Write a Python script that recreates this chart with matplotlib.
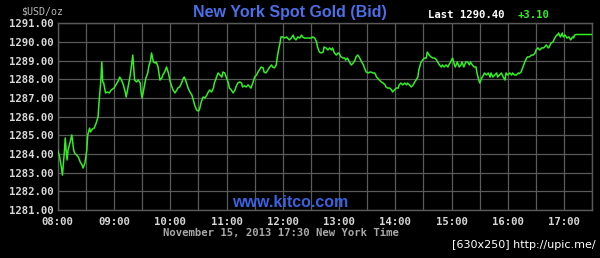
import matplotlib
matplotlib.use("Agg")
import matplotlib.pyplot as plt
import numpy as np

# minutes after 08:00 New York time, bid price in USD/oz
minutes = [0, 2, 4, 5, 7, 8, 9, 10, 11, 13, 15, 17, 18, 20, 22, 24, 26, 27, 29, 31,
           32, 34, 35, 37, 39, 41, 43, 44, 46, 47, 48, 49, 51, 53, 55, 57, 60, 62, 65, 66,
           68, 70, 72, 73, 75, 77, 79, 80, 81, 82, 84, 86, 88, 89, 90, 92, 94, 96, 97, 99,
           100, 102, 104, 105, 107, 109, 111, 112, 114, 116, 118, 120, 121, 123, 125, 127, 128, 130, 132, 134,
           135, 137, 139, 141, 143, 144, 146, 148, 150, 151, 153, 155, 157, 159, 160, 162, 164, 166, 167, 169,
           171, 173, 175, 176, 178, 180, 182, 183, 185, 187, 189, 190, 192, 194, 196, 197, 199, 201, 203, 205,
           206, 208, 210, 212, 213, 215, 217, 219, 220, 222, 224, 226, 228, 229, 231, 233, 234, 235, 237, 238,
           240, 242, 244, 245, 247, 249, 251, 252, 254, 256, 258, 260, 261, 263, 267, 270, 272, 274, 276, 277,
           279, 281, 283, 284, 286, 288, 290, 292, 293, 295, 297, 299, 300, 302, 304, 306, 307, 309, 311, 313,
           315, 317, 318, 320, 322, 324, 326, 327, 329, 331, 333, 334, 336, 338, 340, 341, 343, 345, 347, 349,
           350, 352, 354, 356, 357, 359, 361, 363, 364, 366, 368, 370, 372, 373, 375, 377, 379, 380, 382, 384,
           385, 387, 389, 391, 393, 394, 396, 398, 400, 402, 404, 405, 407, 409, 410, 412, 414, 416, 417, 419,
           421, 423, 424, 426, 428, 430, 431, 433, 435, 437, 439, 440, 442, 444, 446, 447, 449, 450, 452, 454,
           455, 457, 459, 461, 462, 464, 466, 468, 469, 471, 473, 475, 477, 478, 480, 482, 484, 485, 487, 489,
           491, 492, 494, 496, 498, 500, 501, 503, 505, 507, 509, 510, 512, 514, 516, 518, 519, 521, 523, 524,
           526, 528, 530, 532, 533, 534, 536, 538, 539, 541, 543, 545, 547, 549, 550, 551, 553, 570]
bid = [1284.21, 1283.86, 1283.25, 1282.87, 1284.05, 1284.86, 1284.21, 1283.68, 1284.21, 1284.59,
       1285.02, 1284.21, 1284.05, 1283.95, 1283.84, 1283.57, 1283.41, 1283.25, 1283.52, 1284.21,
       1285.02, 1285.39, 1285.18, 1285.34, 1285.39, 1285.66, 1285.98, 1286.73, 1287.96, 1288.93,
       1287.86, 1287.80, 1287.27, 1287.32, 1287.27, 1287.43, 1287.53, 1287.70, 1287.96, 1288.12,
       1287.96, 1287.70, 1287.32, 1287.05, 1287.59, 1288.12, 1288.87, 1289.30, 1288.66, 1287.96,
       1287.86, 1287.96, 1287.80, 1287.27, 1287.00, 1287.53, 1288.07, 1288.34, 1288.66, 1289.03,
       1289.41, 1288.93, 1288.87, 1288.93, 1288.66, 1287.96, 1288.07, 1288.23, 1288.39, 1288.66,
       1288.34, 1287.86, 1287.70, 1287.43, 1287.27, 1287.43, 1287.53, 1287.59, 1287.80, 1288.07,
       1288.12, 1287.86, 1287.53, 1287.32, 1287.16, 1287.00, 1286.62, 1286.36, 1286.30, 1286.36,
       1286.78, 1287.05, 1287.00, 1287.16, 1287.27, 1287.43, 1287.32, 1287.53, 1287.80, 1288.07,
       1288.34, 1288.23, 1288.12, 1288.39, 1288.34, 1288.07, 1287.80, 1287.53, 1287.43, 1287.27,
       1287.43, 1287.59, 1287.80, 1287.86, 1287.80, 1287.59, 1287.65, 1287.59, 1287.70, 1287.59,
       1287.53, 1287.80, 1288.12, 1288.23, 1288.34, 1288.50, 1288.66, 1288.61, 1288.39, 1288.34,
       1288.50, 1288.66, 1288.77, 1288.66, 1288.61, 1288.77, 1289.14, 1289.46, 1289.94, 1290.27,
       1290.27, 1290.21, 1290.27, 1290.21, 1290.11, 1290.21, 1290.37, 1290.21, 1290.11, 1290.27,
       1290.21, 1290.37, 1290.27, 1290.21, 1290.21, 1290.21, 1290.27, 1290.21, 1290.00, 1289.73,
       1289.46, 1289.41, 1289.46, 1289.73, 1289.68, 1289.57, 1289.68, 1289.57, 1289.68, 1289.41,
       1289.30, 1289.41, 1289.40, 1289.20, 1289.14, 1289.14, 1289.03, 1289.14, 1288.93, 1288.77,
       1288.87, 1289.03, 1289.20, 1289.30, 1289.14, 1288.93, 1288.77, 1288.61, 1288.39, 1288.34,
       1288.39, 1288.39, 1288.34, 1288.34, 1288.12, 1288.07, 1287.96, 1287.86, 1287.80, 1287.70,
       1287.59, 1287.53, 1287.53, 1287.43, 1287.32, 1287.43, 1287.53, 1287.53, 1287.70, 1287.80,
       1287.70, 1287.80, 1287.70, 1287.80, 1287.70, 1287.59, 1287.70, 1287.80, 1287.96, 1288.12,
       1288.50, 1288.87, 1289.03, 1289.14, 1289.14, 1289.46, 1289.30, 1289.20, 1289.14, 1289.14,
       1289.03, 1288.93, 1288.77, 1288.66, 1288.77, 1288.66, 1288.77, 1288.66, 1288.77, 1288.93,
       1289.14, 1288.77, 1288.66, 1288.93, 1288.66, 1288.77, 1288.93, 1288.66, 1288.93, 1288.93,
       1288.77, 1288.93, 1288.77, 1288.66, 1288.66, 1288.34, 1287.96, 1287.80, 1288.07, 1288.23,
       1288.34, 1288.23, 1288.34, 1288.12, 1288.34, 1288.12, 1288.23, 1288.34, 1288.12, 1288.23,
       1288.34, 1288.12, 1287.96, 1288.34, 1288.23, 1288.34, 1288.23, 1288.34, 1288.23, 1288.23,
       1288.34, 1288.30, 1288.39, 1288.66, 1288.93, 1289.14, 1289.20, 1289.20, 1289.30, 1289.30,
       1289.41, 1289.57, 1289.68, 1289.57, 1289.68, 1289.68, 1289.73, 1289.84, 1289.68, 1289.73,
       1289.94, 1290.00, 1290.21, 1290.37, 1290.37, 1290.48, 1290.27, 1290.48, 1290.27, 1290.37,
       1290.21, 1290.27, 1290.11, 1290.27, 1290.21, 1290.37, 1290.40, 1290.40]

hour_labels = ["08:00", "09:00", "10:00", "11:00", "12:00", "13:00", "14:00", "15:00", "16:00", "17:00"]
price_ticks = [1281, 1282, 1283, 1284, 1285, 1286, 1287, 1288, 1289, 1290, 1291]

grid_col = "#5a5a5a"
label_col = "#d8d8d8"
mono = "DejaVu Sans Mono"

fig = plt.figure(figsize=(6.0, 2.58), dpi=100, facecolor="black")
ax = fig.add_axes([0.0962, 0.186, 0.8910, 0.7237], facecolor="black")

ax.plot(minutes, bid, color="#33ee22", lw=1.1, zorder=3)

ax.set_xlim(0, 570)
ax.set_ylim(1281, 1291)
ax.set_xticks(np.arange(0, 571, 30), minor=True)
ax.set_xticks(np.arange(0, 541, 60))
ax.set_xticklabels(hour_labels)
ax.set_yticks(price_ticks)
ax.set_yticklabels([f"{p:.2f}" for p in price_ticks])
ax.grid(True, which="both", color=grid_col, lw=0.9, zorder=1)
ax.tick_params(which="both", length=0, labelsize=7.7, labelcolor=label_col)
ax.tick_params(axis="y", pad=3)
ax.tick_params(axis="x", pad=5)
for lab in ax.get_xticklabels() + ax.get_yticklabels():
    lab.set_family(mono)
    lab.set_weight("bold")
for s in ax.spines.values():
    s.set_color(grid_col)
    s.set_linewidth(1.0)

fig.text(0.035, 0.955, "$USD/oz", color="#b8b8b8", fontsize=7.2, family=mono, va="center")
fig.text(0.483, 0.95, "New York Spot Gold (Bid)", color="#4a6fe8", fontsize=11.5,
         family="Liberation Sans", weight="bold", ha="center", va="center")
fig.text(0.713, 0.943, "Last 1290.40", color="white", fontsize=7.7, family=mono,
         weight="bold", va="center")
fig.text(0.862, 0.943, "+3.10", color="#33ee22", fontsize=7.7, family=mono,
         weight="bold", va="center")
fig.text(0.483, 0.215, "www.kitco.com", color="#3a62e0", fontsize=11.5,
         family="Liberation Sans", weight="bold", ha="center", va="center")
fig.text(0.469, 0.097, "November 15, 2013 17:30 New York Time", color="#a8a8a8",
         fontsize=7.7, family=mono, weight="bold", ha="center", va="center")
fig.text(0.992, 0.05, "[630x250] http://upic.me/", color="white", fontsize=8,
         family="DejaVu Sans", ha="right", va="center")

fig.savefig("out.png", dpi=100, facecolor="black")
